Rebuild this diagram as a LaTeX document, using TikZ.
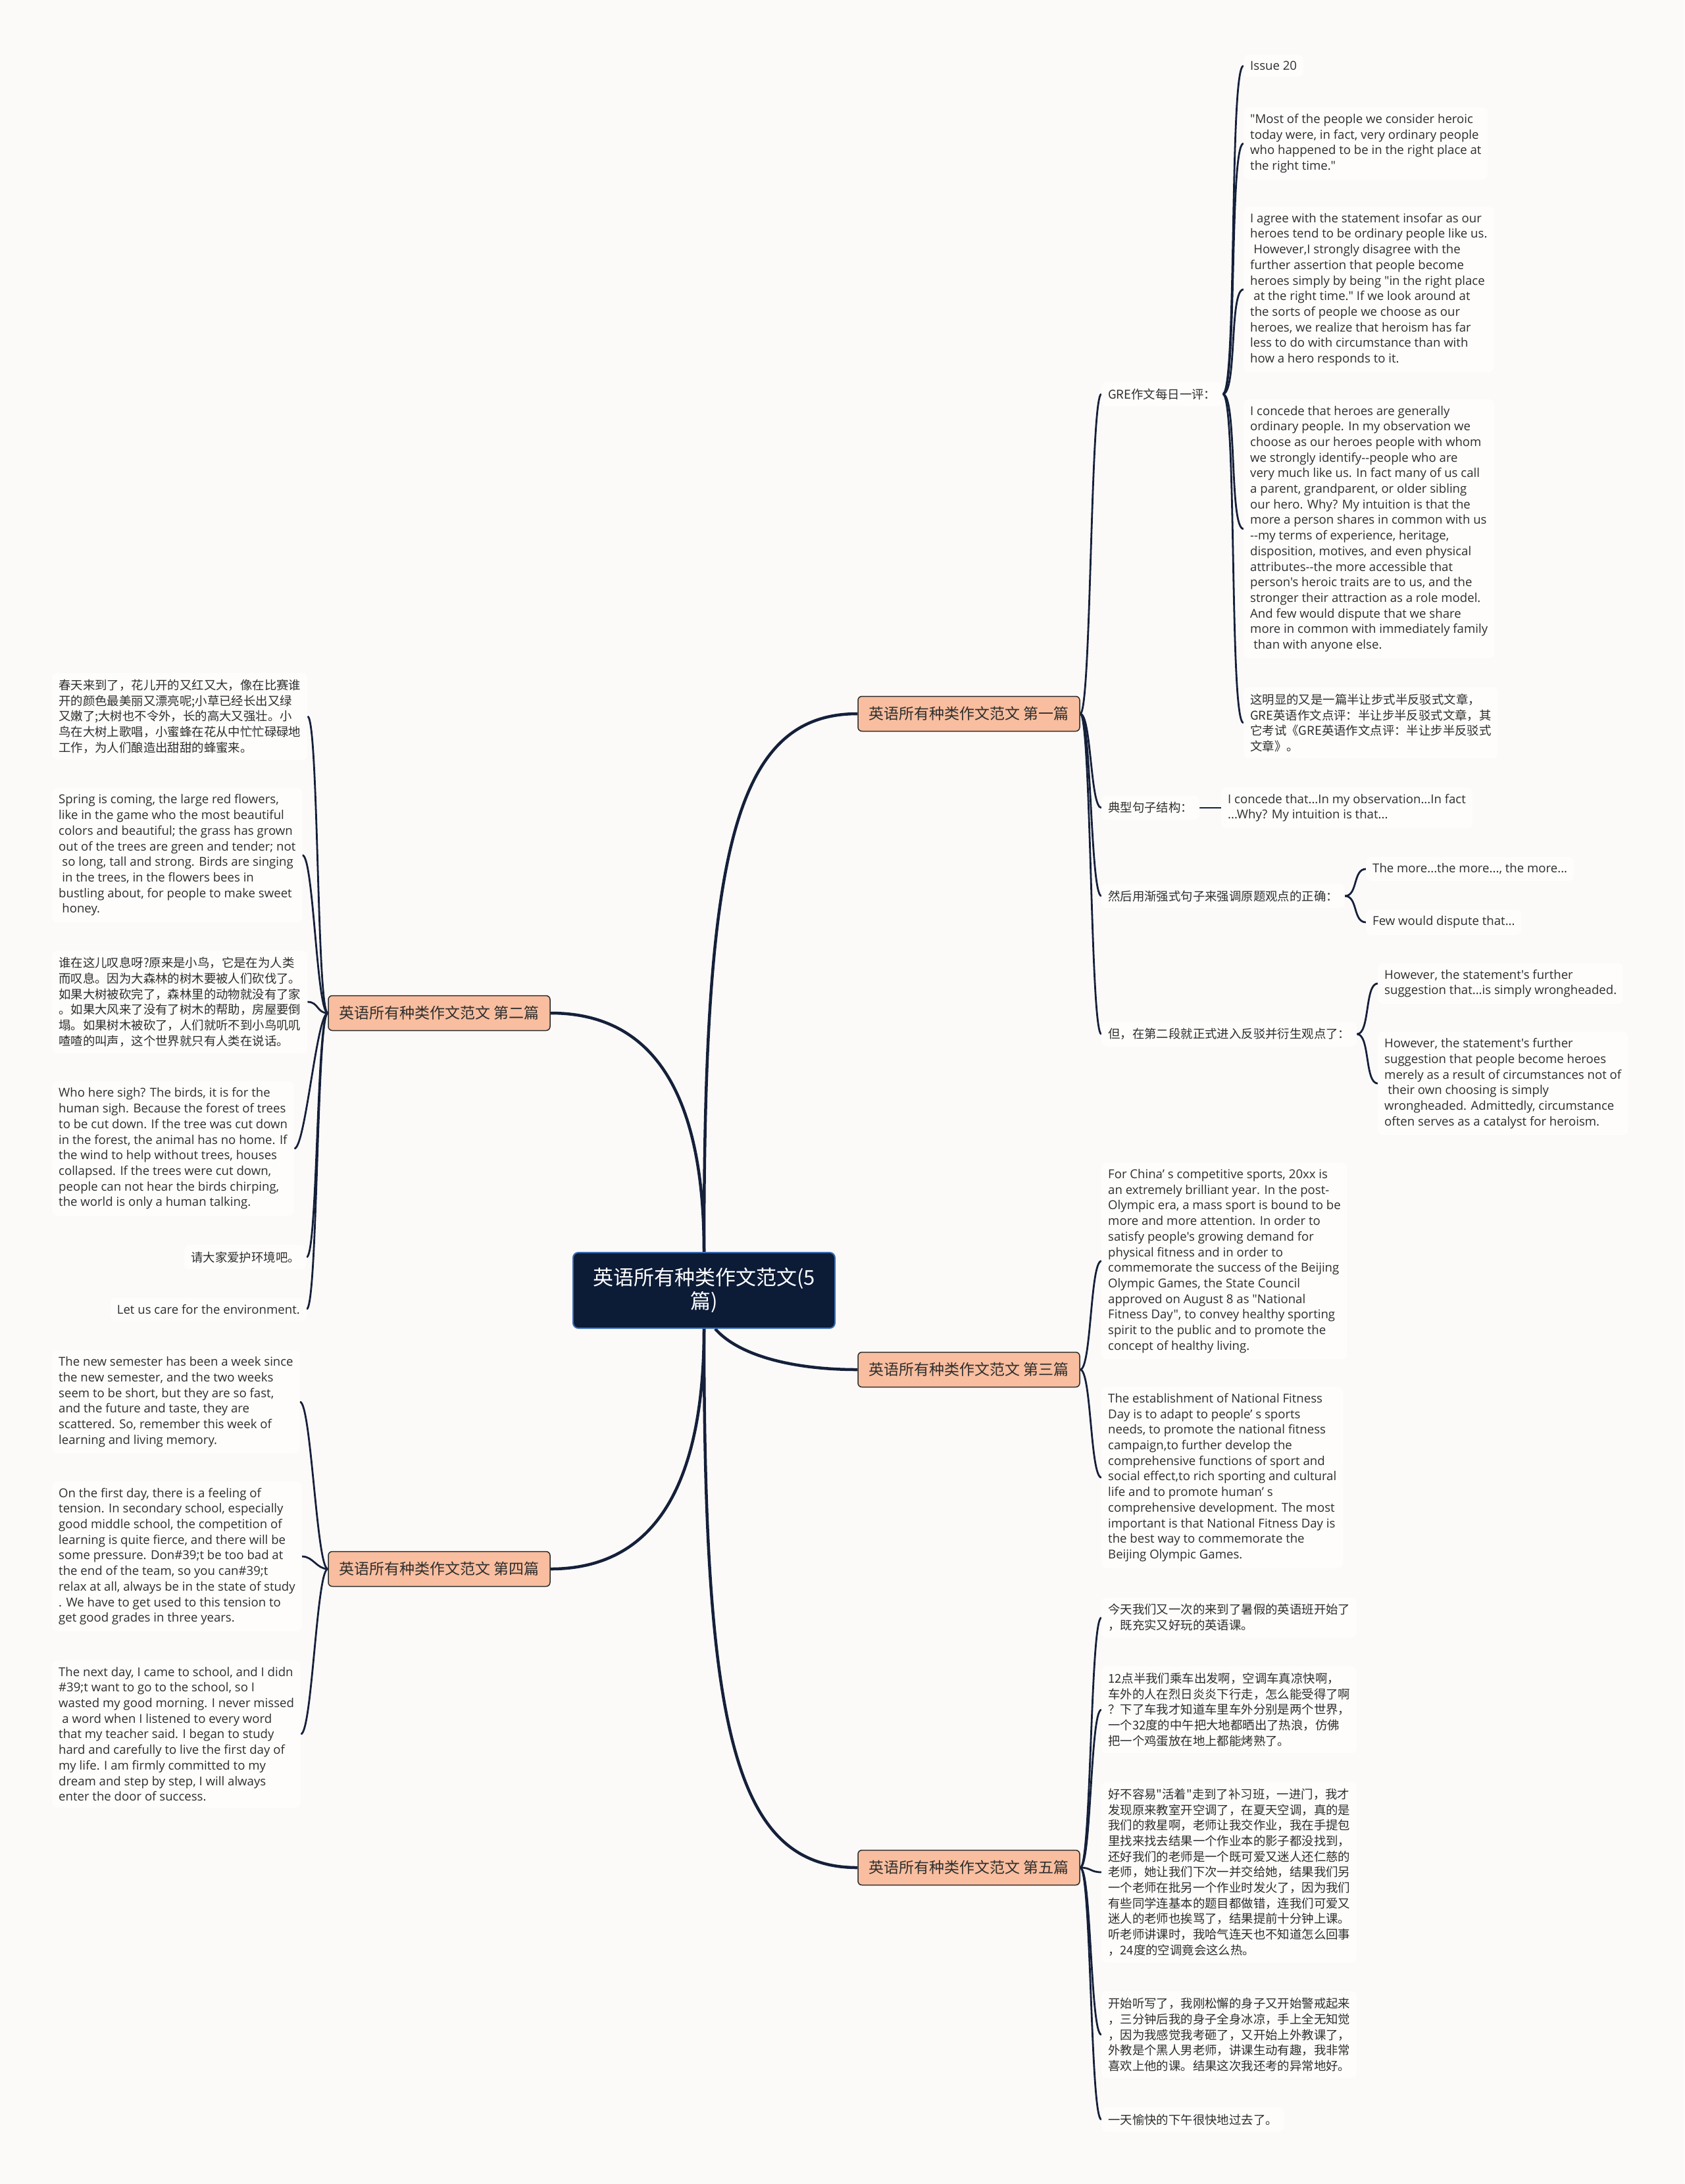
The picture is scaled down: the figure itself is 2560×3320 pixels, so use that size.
\documentclass[tikz,border=0pt]{standalone}
\usepackage{fontspec}
\setmainfont{Open Sans}[Ligatures=TeXOff]
\newfontfamily\cjk{Noto Sans CJK SC}[Ligatures=TeXOff]
\definecolor{bgc}{HTML}{FCFAF9}
\definecolor{leafc}{HTML}{FEFDFC}
\definecolor{txtc}{HTML}{2E2E2E}
\definecolor{conn}{HTML}{15203A}
\definecolor{salmon}{HTML}{F8BE9F}
\definecolor{brdr}{HTML}{2B2B2B}
\definecolor{rootbg}{HTML}{0C1B36}
\definecolor{rootbd}{HTML}{3B6DB3}
\newcommand\ind{\hspace*{0.28em}}
\pgfdeclarelayer{bgl}
\pgfdeclarelayer{lines}
\pgfsetlayers{bgl,lines,main}
\tikzset{
  en/.style={font={\fontsize{18.6}{23.7}\selectfont}},
  zh/.style={font={\cjk\fontsize{18.4}{23.7}\selectfont}},
  leaf/.style={fill=leafc, rounded corners=8pt, inner xsep=10pt, inner ysep=10pt, align=left, text=txtc},
  lw/.style={leaf, anchor=west},
  le/.style={leaf, anchor=east},
  rootbox/.style={fill=rootbg, draw=rootbd, line width=2pt, rounded corners=8pt, text=white,
    font={\cjk\fontsize{31}{36}\selectfont}, align=center, minimum width=398pt, minimum height=115pt, inner sep=0pt},
  branch/.style={fill=salmon, draw=brdr, line width=1.5pt, rounded corners=6pt, text=txtc,
    font={\cjk\fontsize{23}{28}\selectfont}, minimum width=337pt, minimum height=53pt, inner sep=0pt},
  mainc/.style={draw=conn, line width=4.5pt},
  subc/.style={draw=conn, line width=2.8pt},
}
\begin{document}
\begin{tikzpicture}[x=1pt,y=-1pt]
\begin{pgfonlayer}{bgl}
\fill[bgc] (0,0) rectangle (2560,3320);
\end{pgfonlayer}
\useasboundingbox (0,0) rectangle (2560,3320);

% root and branches
\node[rootbox] (root) at (1070,1961.5) {英语所有种类作文范文(5\\篇)};
\node[branch] (b1) at (1472.5,1085) {英语所有种类作文范文 第一篇};
\node[branch] (b2) at (667.5,1540) {英语所有种类作文范文 第二篇};
\node[branch] (b3) at (1472.5,2082) {英语所有种类作文范文 第三篇};
\node[branch] (b4) at (667.5,2385) {英语所有种类作文范文 第四篇};
\node[branch] (b5) at (1472.5,2839) {英语所有种类作文范文 第五篇};

% article 1
\node[lw,zh] (a1) at (1674,599) {GRE作文每日一评：};
\node[lw,en] (a11) at (1890,100) {Issue 20};
\node[lw,en] (a12) at (1890,218) {"Most of the people we consider heroic\\today were, in fact, very ordinary people\\who happened to be in the right place at\\the right time."};
\node[lw,en] (a13) at (1890,440) {I agree with the statement insofar as our\\heroes tend to be ordinary people like us.\\\ind However,I strongly disagree with the\\further assertion that people become\\heroes simply by being "in the right place\\\ind at the right time." If we look around at\\the sorts of people we choose as our\\heroes, we realize that heroism has far\\less to do with circumstance than with\\how a hero responds to it.};
\node[lw,en] (a14) at (1890,804) {I concede that heroes are generally\\ordinary people. In my observation we\\choose as our heroes people with whom\\we strongly identify--people who are\\very much like us. In fact many of us call\\a parent, grandparent, or older sibling\\our hero. Why? My intuition is that the\\more a person shares in common with us\\--my terms of experience, heritage,\\disposition, motives, and even physical\\attributes--the more accessible that\\person's heroic traits are to us, and the\\stronger their attraction as a role model.\\And few would dispute that we share\\more in common with immediately family\\\ind than with anyone else.};
\node[lw,zh] (a15) at (1890,1099) {这明显的又是一篇半让步式半反驳式文章，\\GRE英语作文点评：半让步半反驳式文章，其\\它考试《GRE英语作文点评：半让步半反驳式\\文章》。};
\node[lw,zh] (a2) at (1674,1228) {典型句子结构：};
\node[lw,en] (a21) at (1856,1228) {I concede that...In my observation...In fact\\...Why? My intuition is that...};
\node[lw,zh] (a3) at (1674,1362) {然后用渐强式句子来强调原题观点的正确：};
\node[lw,en] (a31) at (2076,1321) {The more...the more..., the more...};
\node[lw,en] (a32) at (2076,1402) {Few would dispute that...};
\node[lw,zh] (a4) at (1674,1572) {但，在第二段就正式进入反驳并衍生观点了：};
\node[lw,en] (a41) at (2094,1495) {However, the statement's further\\suggestion that...is simply wrongheaded.};
\node[lw,en] (a42) at (2094,1647) {However, the statement's further\\suggestion that people become heroes\\merely as a result of circumstances not of\\\ind their own choosing is simply\\wrongheaded. Admittedly, circumstance\\often serves as a catalyst for heroism.};

% article 2
\node[lw,zh] (c1) at (79,1089) {春天来到了，花儿开的又红又大，像在比赛谁\\开的颜色最美丽又漂亮呢;小草已经长出又绿\\又嫩了;大树也不令外，长的高大又强壮。小\\鸟在大树上歌唱，小蜜蜂在花从中忙忙碌碌地\\工作，为人们酿造出甜甜的蜂蜜来。};
\node[lw,en] (c2) at (79,1300) {Spring is coming, the large red flowers,\\like in the game who the most beautiful\\colors and beautiful; the grass has grown\\out of the trees are green and tender; not\\\ind so long, tall and strong. Birds are singing\\\ind in the trees, in the flowers bees in\\bustling about, for people to make sweet\\\ind honey.};
\node[lw,zh] (c3) at (79,1523) {谁在这儿叹息呀?原来是小鸟，它是在为人类\\而叹息。因为大森林的树木要被人们砍伐了。\\如果大树被砍完了，森林里的动物就没有了家\\。如果大风来了没有了树木的帮助，房屋要倒\\塌。如果树木被砍了，人们就听不到小鸟叽叽\\喳喳的叫声，这个世界就只有人类在说话。};
\node[lw,en] (c4) at (79,1746) {Who here sigh? The birds, it is for the\\human sigh. Because the forest of trees\\to be cut down. If the tree was cut down\\in the forest, the animal has no home. If\\the wind to help without trees, houses\\collapsed. If the trees were cut down,\\people can not hear the birds chirping,\\the world is only a human talking.};
\node[le,zh] (c5) at (466,1911) {请大家爱护环境吧。};
\node[le,en] (c6) at (466,1990) {Let us care for the environment.};

% article 3
\node[lw,en] (d1) at (1674,1917) {For China’ s competitive sports, 20xx is\\an extremely brilliant year. In the post-\\Olympic era, a mass sport is bound to be\\more and more attention. In order to\\satisfy people's growing demand for\\physical fitness and in order to\\commemorate the success of the Beijing\\Olympic Games, the State Council\\approved on August 8 as "National\\Fitness Day", to convey healthy sporting\\spirit to the public and to promote the\\concept of healthy living.};
\node[lw,en] (d2) at (1674,2246) {The establishment of National Fitness\\Day is to adapt to people’ s sports\\needs, to promote the national fitness\\campaign,to further develop the\\comprehensive functions of sport and\\social effect,to rich sporting and cultural\\life and to promote human’ s\\comprehensive development. The most\\important is that National Fitness Day is\\the best way to commemorate the\\Beijing Olympic Games.};

% article 4
\node[lw,en] (e1) at (79,2131) {The new semester has been a week since\\the new semester, and the two weeks\\seem to be short, but they are so fast,\\and the future and taste, they are\\scattered. So, remember this week of\\learning and living memory.};
\node[lw,en] (e2) at (79,2366) {On the first day, there is a feeling of\\tension. In secondary school, especially\\good middle school, the competition of\\learning is quite fierce, and there will be\\some pressure. Don\#39;t be too bad at\\the end of the team, so you can\#39;t\\relax at all, always be in the state of study\\. We have to get used to this tension to\\get good grades in three years.};
\node[lw,en] (e3) at (79,2636) {The next day, I came to school, and I didn\\\#39;t want to go to the school, so I\\wasted my good morning. I never missed\\\ind a word when I listened to every word\\that my teacher said. I began to study\\hard and carefully to live the first day of\\my life. I am firmly committed to my\\dream and step by step, I will always\\enter the door of success.};

% article 5
\node[lw,zh] (f1) at (1674,2459) {今天我们又一次的来到了暑假的英语班开始了\\，既充实又好玩的英语课。};
\node[lw,zh] (f2) at (1674,2599) {12点半我们乘车出发啊，空调车真凉快啊，\\车外的人在烈日炎炎下行走，怎么能受得了啊\\？下了车我才知道车里车外分别是两个世界，\\一个32度的中午把大地都晒出了热浪，仿佛\\把一个鸡蛋放在地上都能烤熟了。};
\node[lw,zh] (f3) at (1674,2846) {好不容易"活着"走到了补习班，一进门，我才\\发现原来教室开空调了，在夏天空调，真的是\\我们的救星啊，老师让我交作业，我在手提包\\里找来找去结果一个作业本的影子都没找到，\\还好我们的老师是一个既可爱又迷人还仁慈的\\老师，她让我们下次一并交给她，结果我们另\\一个老师在批另一个作业时发火了，因为我们\\有些同学连基本的题目都做错，连我们可爱又\\迷人的老师也挨骂了，结果提前十分钟上课。\\听老师讲课时，我哈气连天也不知道怎么回事\\，24度的空调竟会这么热。};
\node[lw,zh] (f4) at (1674,3093) {开始听写了，我刚松懈的身子又开始警戒起来\\，三分钟后我的身子全身冰凉，手上全无知觉\\，因为我感觉我考砸了，又开始上外教课了，\\外教是个黑人男老师，讲课生动有趣，我非常\\喜欢上他的课。结果这次我还考的异常地好。};
\node[lw,zh] (f5) at (1674,3222) {一天愉快的下午很快地过去了。};

\begin{pgfonlayer}{lines}
\draw[mainc] (root.north) .. controls +(0,-600) and +(-190,0) .. (b1.west);
\draw[mainc] (root.north) .. controls +(0,-250) and +(150,0) .. (b2.east);
\draw[mainc] ([xshift=17pt]root.south) .. controls +(35,40) and +(-100,0) .. (b3.west);
\draw[mainc] (root.south) .. controls +(0,250) and +(150,0) .. (b4.east);
\draw[mainc] (root.south) .. controls +(0,600) and +(-190,0) .. (b5.west);

\foreach \c in {a1,a2,a3,a4}
  \draw[subc] (b1.east) .. controls +(17,0) and +(-17,0) .. (\c.west);
\foreach \c in {a11,a12,a13,a14,a15}
  \draw[subc] (a1.east) .. controls +(22,0) and +(-22,0) .. (\c.west);
\draw[subc] (a2.east) -- (a21.west);
\foreach \c in {a31,a32}
  \draw[subc] (a3.east) .. controls +(20,0) and +(-20,0) .. (\c.west);
\foreach \c in {a41,a42}
  \draw[subc] (a4.east) .. controls +(20,0) and +(-20,0) .. (\c.west);
\foreach \c in {c1,c2,c3,c4,c5,c6}
  \draw[subc] (b2.west) .. controls +(-17,0) and +(17,0) .. (\c.east);
\foreach \c in {d1,d2}
  \draw[subc] (b3.east) .. controls +(17,0) and +(-17,0) .. (\c.west);
\foreach \c in {e1,e2,e3}
  \draw[subc] (b4.west) .. controls +(-17,0) and +(17,0) .. (\c.east);
\foreach \c in {f1,f2,f3,f4,f5}
  \draw[subc] (b5.east) .. controls +(17,0) and +(-17,0) .. (\c.west);
\end{pgfonlayer}
\end{tikzpicture}
\end{document}
